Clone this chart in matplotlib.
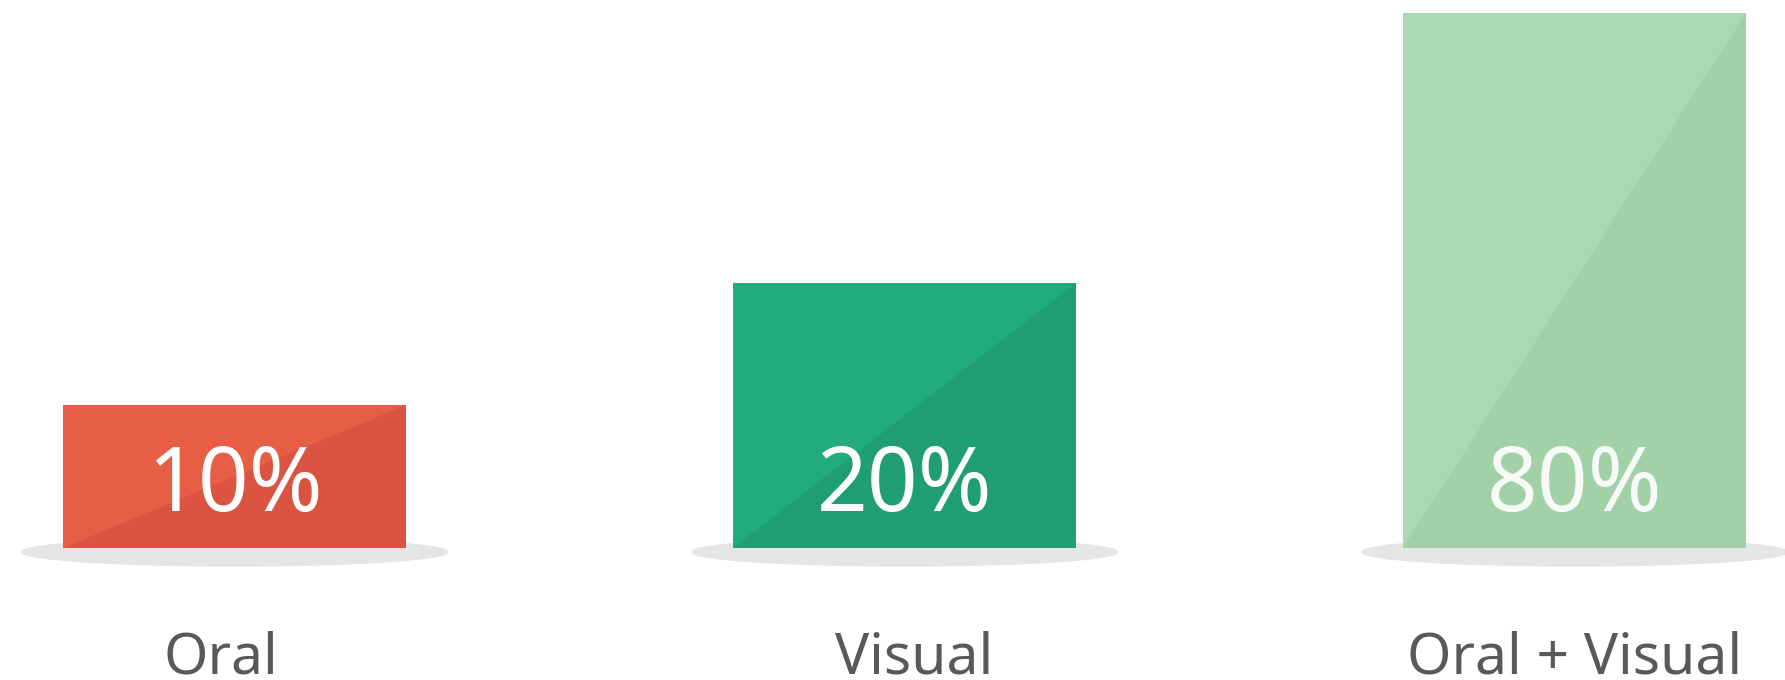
import matplotlib
matplotlib.use('Agg')
import matplotlib.pyplot as plt
from matplotlib.patches import Polygon, Ellipse

categories = ['Oral', 'Visual', 'Oral + Visual']
value_labels = ['10%', '20%', '80%']
# drawn bar heights (tallest bar = 100)
bar_heights = [26.7, 49.5, 100.0]

light_cols = ['#E85D45', '#22AB7F', '#AAD9B1']
dark_cols = ['#DB5442', '#1F9E73', '#A2D1A8']
text_cols = ['white', 'white', '#F7FBF7']

plt.rcParams['font.family'] = ['Noto Sans', 'DejaVu Sans']

fig = plt.figure(figsize=(17.85, 6.8), dpi=100)
base_px = 132
ax = fig.add_axes([0, base_px / 680, 1, (680 - base_px) / 680])
ax.set_xlim(-0.35, 2.314)
ax.set_ylim(0, 102.4)
ax.axis('off')

unit = 102.4 / (680 - base_px)  # data units per pixel (vertical)
w = 0.512
label_dx = [-0.02, 0.015, 0.0]  # category labels sit a bit off-centre

x = list(range(len(categories)))
ax.bar(x, bar_heights, width=w, color=light_cols, zorder=2)

for i, h in enumerate(bar_heights):
    l, r = x[i] - w / 2, x[i] + w / 2
    # shadow under the bar
    ax.add_patch(Ellipse((x[i], -4 * unit), 0.635, 28 * unit, color='#E5E5E5',
                         zorder=1, clip_on=False))
    # darker lower-right half
    ax.add_patch(Polygon([(l, 0), (r, 0), (r, h)], closed=True,
                         color=dark_cols[i], zorder=3, lw=0))
    ax.text(x[i], 60 * unit, value_labels[i], ha='center', va='center',
            fontsize=64, color=text_cols[i], zorder=4)
    ax.text(x[i] + label_dx[i], -125 * unit, categories[i], ha='center',
            va='baseline', fontsize=41, color='#595959', clip_on=False)

fig.savefig('out.png', dpi=100)
